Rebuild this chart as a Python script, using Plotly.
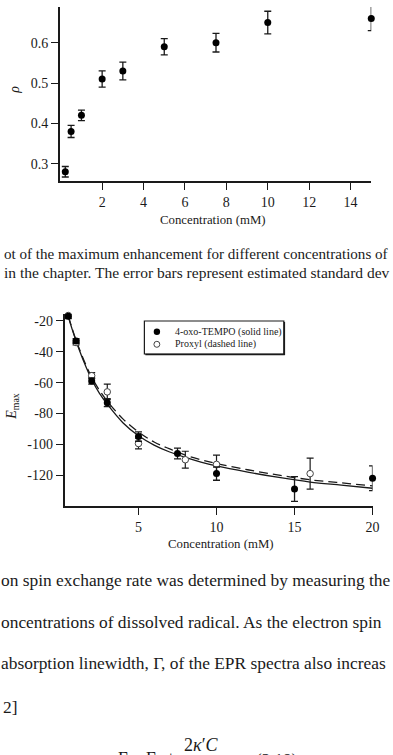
import plotly.graph_objects as go

W, H = 393, 755
SERIF = "Liberation Serif, Times New Roman, serif"
INK = "#1a1a1a"

# ---------------- data: top chart (rho vs concentration) ----------------
rho_conc = [0.22, 0.5, 1.0, 2.0, 3.0, 5.0, 7.5, 10.0, 15.0]
rho_val = [0.28, 0.38, 0.42, 0.51, 0.53, 0.59, 0.60, 0.65, 0.66]
rho_err = [0.013, 0.015, 0.013, 0.02, 0.022, 0.02, 0.023, 0.028, 0.03]
rho_xticks = [2, 4, 6, 8, 10, 12, 14]
rho_yticks = [0.3, 0.4, 0.5, 0.6]
rho_yticktext = ["0.3", "0.4", "0.5", "0.6"]

# ---------------- data: bottom chart (Emax vs concentration) ----------------
tempo_conc = [0.5, 1, 2, 3, 5, 7.5, 10, 15, 20]
tempo_emax = [-17, -33, -59, -73, -95, -106, -119, -129, -122]
tempo_err = [1.5, 1.5, 2, 2.6, 3, 3.5, 4.3, 8, 8]

proxyl_conc = [0.5, 1, 2, 3, 5, 8, 10, 16]
proxyl_emax = [-16.5, -34, -55.5, -66, -99.5, -110, -113, -119]
proxyl_err = [1.5, 1.5, 2, 5, 3.5, 5.5, 6, 10]

fit_conc = [0.5, 0.75, 1, 1.5, 2, 2.5, 3, 4, 5, 6, 7, 8, 9, 10, 12, 14, 16, 18, 20]
tempo_fit = [-17, -25.5, -33, -46.5, -58, -67, -74, -86, -94.5, -100.5, -105, -108.5,
             -111.5, -114, -118, -121.5, -124.5, -126.5, -128.5]
proxyl_fit = [-17, -25, -32.5, -45.5, -56.5, -65, -72, -83.5, -92, -98.5, -103, -107,
              -110, -112.5, -116.5, -120, -123, -125, -127]

e_xticks = [5, 10, 15, 20]
e_yticks = [-20, -40, -60, -80, -100, -120]
e_yticktext = ["-20", "-40", "-60", "-80", "-100", "-120"]


def px(x):
    return x / W


def py(y):
    return 1 - y / H


fig = go.Figure()

fig.add_trace(go.Scatter(
    x=rho_conc, y=rho_val, mode="markers", xaxis="x", yaxis="y", cliponaxis=False,
    marker=dict(color="black", size=7),
    error_y=dict(type="data", array=rho_err, visible=True, thickness=1.3,
                 width=3.5, color=INK),
    showlegend=False))

fig.add_trace(go.Scatter(
    x=fit_conc, y=proxyl_fit, mode="lines", xaxis="x2", yaxis="y2",
    line=dict(color=INK, width=1.3, dash="9px,5px", shape="spline"),
    showlegend=False))
fig.add_trace(go.Scatter(
    x=fit_conc, y=tempo_fit, mode="lines", xaxis="x2", yaxis="y2",
    line=dict(color=INK, width=1.3, shape="spline"),
    showlegend=False))
fig.add_trace(go.Scatter(
    x=proxyl_conc, y=proxyl_emax, mode="markers", xaxis="x2", yaxis="y2",
    cliponaxis=False,
    marker=dict(color="white", size=6.5, symbol="circle",
                line=dict(color="#444", width=1)),
    error_y=dict(type="data", array=proxyl_err, visible=True, thickness=1.2,
                 width=3.5, color=INK),
    showlegend=False))
fig.add_trace(go.Scatter(
    x=tempo_conc, y=tempo_emax, mode="markers", xaxis="x2", yaxis="y2",
    cliponaxis=False,
    marker=dict(color="black", size=7),
    error_y=dict(type="data", array=tempo_err, visible=True, thickness=1.3,
                 width=3.5, color=INK),
    showlegend=False))

axis_common = dict(showgrid=False, zeroline=False, showline=True, linecolor=INK,
                   linewidth=1.5, ticks="outside", tickcolor=INK, tickwidth=1.4,
                   ticklen=7, tickfont=dict(family=SERIF, size=14, color=INK))

fig.update_layout(
    width=W, height=H, margin=dict(l=0, r=0, t=0, b=0),
    paper_bgcolor="white", plot_bgcolor="white",
    xaxis=dict(domain=[px(61), px(378)], range=[-0.04, 15.0], tickvals=rho_xticks,
               anchor="y", **axis_common),
    yaxis=dict(domain=[py(181), py(7)], range=[0.2571, 0.6886], tickvals=rho_yticks,
               ticktext=rho_yticktext, anchor="x", **axis_common),
    xaxis2=dict(domain=[px(65.7), px(379.3)], range=[0.26, 20], tickvals=e_xticks,
                anchor="y2", **axis_common),
    yaxis2=dict(domain=[py(506), py(314.3)], range=[-140, -15.7], tickvals=e_yticks,
                ticktext=e_yticktext, anchor="x2", **axis_common),
)

ann = []


def text(x, y, s, size, anchor="left", angle=0, color=INK):
    ann.append(dict(x=px(x), y=py(y), xref="paper", yref="paper", text=s,
                    showarrow=False, xanchor=anchor, yanchor="middle",
                    textangle=angle, font=dict(family=SERIF, size=size, color=color)))


# axis titles
text(217, 220, "Concentration (mM)", 12.8, "center")
text(15, 90, "<i>ρ</i>", 14, "center", -90)
text(225, 544, "Concentration (mM)", 12.8, "center")
text(12, 406, "<i>E</i><sub>max</sub>", 14, "center", -90)

# legend
text(175.7, 331.7, "4-oxo-TEMPO (solid line)", 10)
text(175.7, 344.3, "Proxyl (dashed line)", 10)

# caption
text(2, 254, "ot of the maximum enhancement for different concentrations of", 15.1)
text(2, 272.5, "in the chapter. The error bars represent estimated standard dev", 15.5)

# body text
text(-1, 580, "on spin exchange rate was determined by measuring the", 17.4)
text(-1, 621.7, "oncentrations of dissolved radical. As the electron spin", 17.4)
text(-1, 663.3, "absorption linewidth, Γ, of the EPR spectra also increas", 17.4)
text(1, 706.7, "2]", 17.4)
text(205.5, 745, "2<i>κ</i>′<i>C</i>", 18, "center")
text(118, 759, "Γ = Γ<sub>0</sub> +", 17)
text(259, 759, "(2.18)", 17)

fig.update_layout(annotations=ann)

shapes = [
    dict(type="rect", xref="paper", yref="paper", x0=px(147), x1=px(289),
         y0=py(354), y1=py(321), line=dict(color=INK, width=1.2), fillcolor="white",
         layer="above"),
    dict(type="line", xref="paper", yref="paper", x0=px(289.5), x1=px(289.5),
         y0=py(355), y1=py(322), line=dict(color=INK, width=1.5)),
    dict(type="line", xref="paper", yref="paper", x0=px(148), x1=px(290),
         y0=py(354.5), y1=py(354.5), line=dict(color=INK, width=1.5)),
    dict(type="circle", xref="paper", yref="paper", x0=px(156.5), x1=px(163),
         y0=py(335), y1=py(328.5), fillcolor="black", line=dict(color="black", width=0)),
    dict(type="circle", xref="paper", yref="paper", x0=px(156.7), x1=px(162.7),
         y0=py(347.3), y1=py(341.3), fillcolor="white", line=dict(color="#444", width=1)),
]
fig.update_layout(shapes=shapes)

fig.write_html("out.html")
